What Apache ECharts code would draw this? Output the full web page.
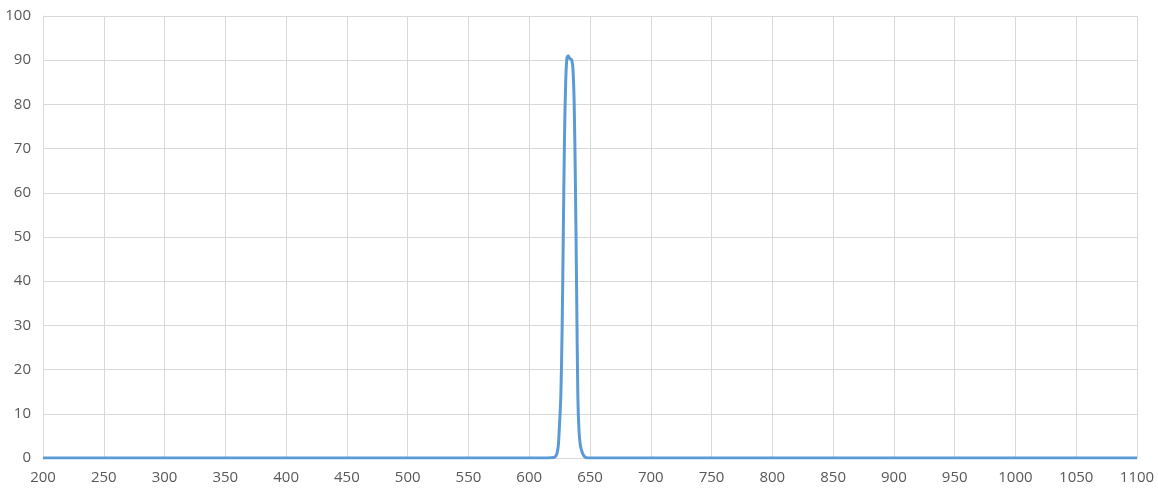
<!DOCTYPE html>
<html>
<head>
<meta charset="utf-8">
<script src="https://cdn.jsdelivr.net/npm/echarts@6/dist/echarts.min.js"></script>
<style>html,body{margin:0;padding:0;background:#fff}#c{width:1158px;height:491px}</style>
</head>
<body>
<div id="c"></div>
<script>
const wavelengths = [200, 400, 600, 615, 620, 622, 623, 624, 625, 626, 627, 628, 629, 630, 631, 632, 633, 634, 635, 636, 637, 638, 639, 640, 641, 642, 643, 644, 645, 646, 648, 650, 700, 900, 1100];
const transmission = [0, 0, 0, 0, 0.1, 0.5, 1.2, 3, 8, 14, 28, 50, 72, 85, 90.5, 91, 90.5, 90.3, 90, 88, 80, 62, 38, 14, 6, 3, 1.8, 1, 0.5, 0.2, 0, 0, 0, 0, 0];
const xMin = 200, xMax = 1100, xStep = 50;
const yMin = 0, yMax = 100, yStep = 10;

const chart = echarts.init(document.getElementById('c'), null, {renderer: 'canvas'});
const labelStyle = {color: '#595959', fontSize: 15, fontFamily: 'Open Sans, Noto Sans, sans-serif', formatter: v => String(v)};
chart.setOption({
  animation: false,
  grid: {left: 43, right: 21, top: 16, bottom: 33, containLabel: false},
  xAxis: {
    type: 'value', min: xMin, max: xMax, interval: xStep,
    axisLine: {show: true, lineStyle: {color: '#d9d9d9', width: 1}},
    axisTick: {show: false},
    splitLine: {show: true, lineStyle: {color: '#d9d9d9', width: 1}},
    axisLabel: Object.assign({margin: 12}, labelStyle)
  },
  yAxis: {
    type: 'value', min: yMin, max: yMax, interval: yStep,
    axisLine: {show: true, lineStyle: {color: '#d9d9d9', width: 1}},
    axisTick: {show: false},
    splitLine: {show: true, lineStyle: {color: '#d9d9d9', width: 1}},
    axisLabel: Object.assign({margin: 12}, labelStyle)
  },
  series: [{
    type: 'line',
    data: wavelengths.map((w, i) => [w, transmission[i]]),
    showSymbol: false,
    smooth: 0.3,
    lineStyle: {color: '#5b9bd5', width: 3},
    itemStyle: {color: '#5b9bd5'}
  }]
});
</script>
</body>
</html>
